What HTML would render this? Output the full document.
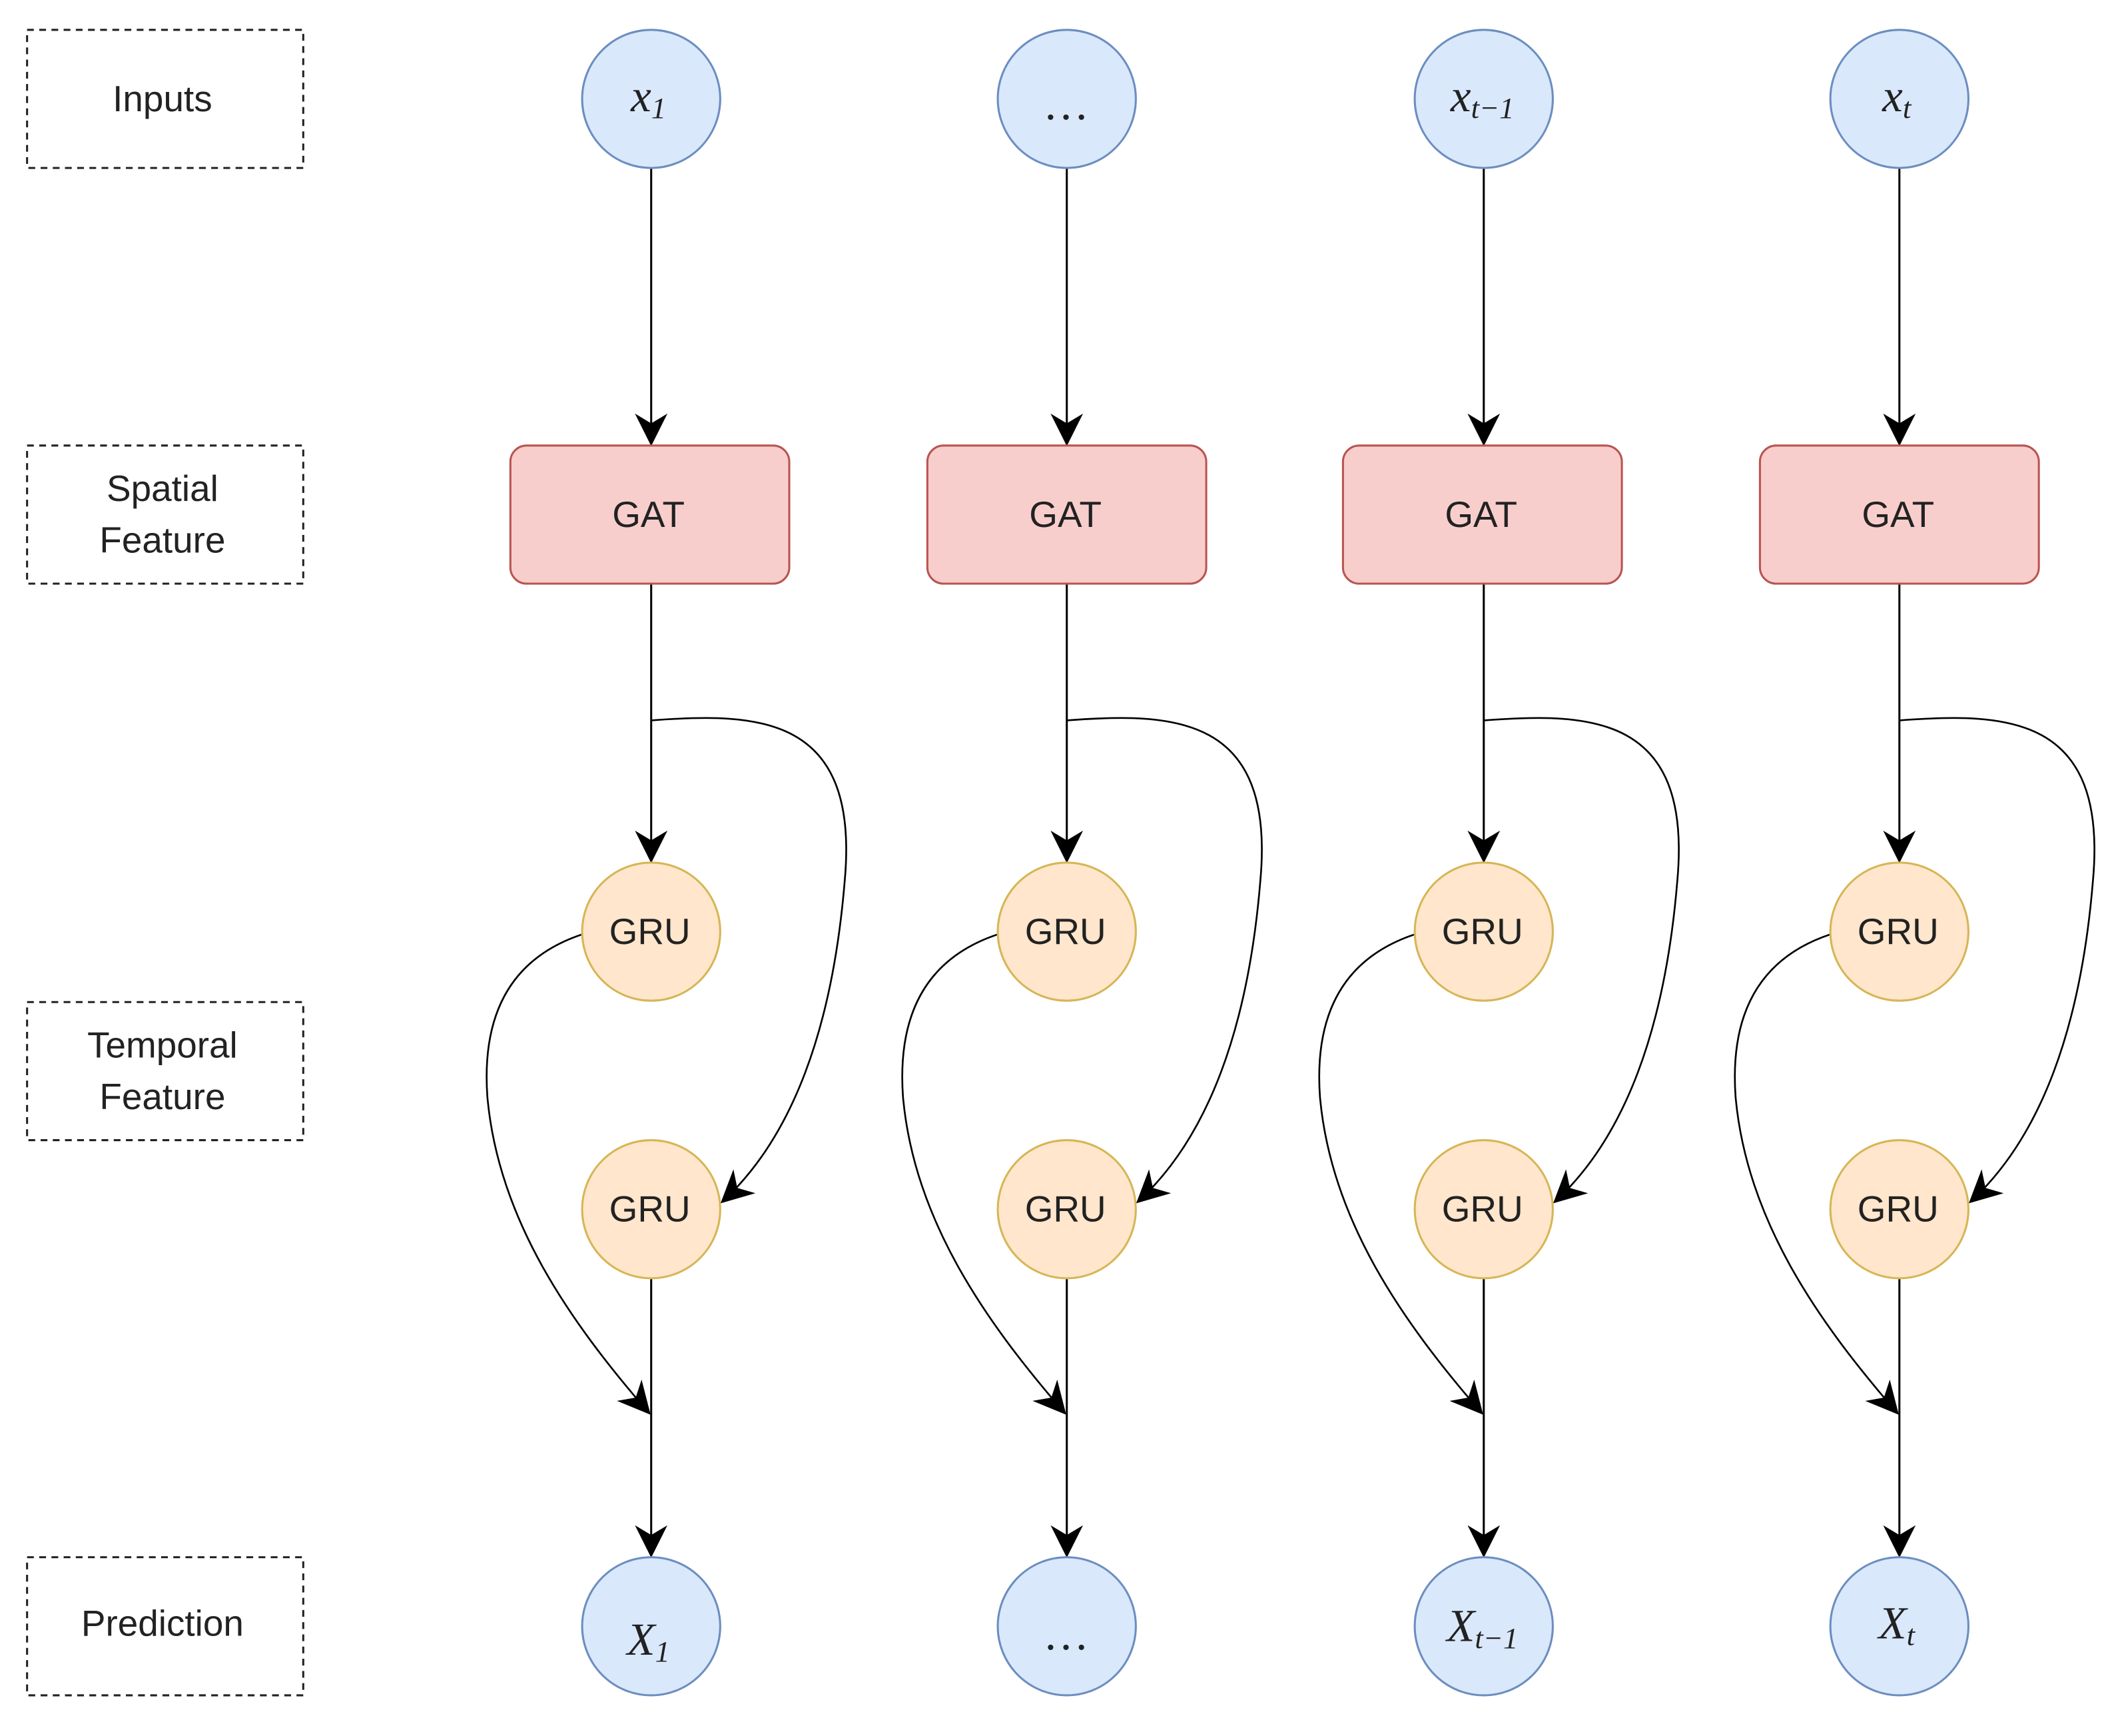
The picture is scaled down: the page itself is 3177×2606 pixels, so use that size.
<!DOCTYPE html>
<html><head><meta charset="utf-8"><style>
html,body{margin:0;padding:0;background:#fff;}
svg{display:block;}
.lbl{font-family:"Liberation Sans",sans-serif;font-size:27px;fill:#222;text-anchor:middle;}
.m{font-family:"Liberation Serif",serif;font-style:italic;font-size:34px;fill:#222;text-anchor:middle;}
.s{font-size:22px;font-style:italic;}
</style></head><body>
<svg width="3177" height="2606" viewBox="0 0 1563 1282" xmlns="http://www.w3.org/2000/svg">
<defs>
<marker id="b" viewBox="0 0 10 10" refX="9" refY="5" markerWidth="24" markerHeight="24" markerUnits="userSpaceOnUse" orient="auto">
<path d="M0,0 L10,5 L0,10 L3,5 z" fill="#000"/>
</marker>
</defs>
<g fill="none" stroke="#222" stroke-width="1.5" stroke-dasharray="5,4">
<rect x="20" y="22" width="204" height="102"/>
<rect x="20" y="329" width="204" height="102"/>
<rect x="20" y="740" width="204" height="102"/>
<rect x="20" y="1150" width="204" height="102"/>
</g>
<text class="lbl" x="120" y="82">Inputs</text>
<text class="lbl" x="120" y="370">Spatial</text>
<text class="lbl" x="120" y="408">Feature</text>
<text class="lbl" x="120" y="781">Temporal</text>
<text class="lbl" x="120" y="819">Feature</text>
<text class="lbl" x="120" y="1208">Prediction</text>

<g stroke="#000" stroke-width="1.5" fill="none">
<path d="M481,124 V327" marker-end="url(#b)"/>
<path d="M788,124 V327" marker-end="url(#b)"/>
<path d="M1096,124 V327" marker-end="url(#b)"/>
<path d="M1403,124 V327" marker-end="url(#b)"/>
<path d="M481,431 V635" marker-end="url(#b)"/>
<path d="M788,431 V635" marker-end="url(#b)"/>
<path d="M1096,431 V635" marker-end="url(#b)"/>
<path d="M1403,431 V635" marker-end="url(#b)"/>
<path d="M481,944 V1148" marker-end="url(#b)"/>
<path d="M788,944 V1148" marker-end="url(#b)"/>
<path d="M1096,944 V1148" marker-end="url(#b)"/>
<path d="M1403,944 V1148" marker-end="url(#b)"/>
</g>
<g stroke="#000" stroke-width="1.3" fill="none">
<path d="M481,532 C560,526 635,528 624,650 C615,760 585,840 534,887" marker-end="url(#b)"/>
<path d="M788,532 C867,526 942,528 931,650 C922,760 892,840 841,887" marker-end="url(#b)"/>
<path d="M1096,532 C1175,526 1250,528 1239,650 C1230,760 1200,840 1149,887" marker-end="url(#b)"/>
<path d="M1403,532 C1482,526 1557,528 1546,650 C1537,760 1507,840 1456,887" marker-end="url(#b)"/>
<path d="M430,690 C385,705 355,740 360,810 C368,900 420,975 479,1043" marker-end="url(#b)"/>
<path d="M737,690 C692,705 662,740 667,810 C675,900 727,975 786,1043" marker-end="url(#b)"/>
<path d="M1045,690 C1000,705 970,740 975,810 C983,900 1035,975 1094,1043" marker-end="url(#b)"/>
<path d="M1352,690 C1307,705 1277,740 1282,810 C1290,900 1342,975 1401,1043" marker-end="url(#b)"/>
</g>
<g fill="#f8cecc" stroke="#b85450" stroke-width="1.5">
<rect x="377" y="329" width="206" height="102" rx="12"/>
<rect x="685" y="329" width="206" height="102" rx="12"/>
<rect x="992" y="329" width="206" height="102" rx="12"/>
<rect x="1300" y="329" width="206" height="102" rx="12"/>
</g>
<text class="lbl" x="479" y="389">GAT</text><text class="lbl" x="787" y="389">GAT</text><text class="lbl" x="1094" y="389">GAT</text><text class="lbl" x="1402" y="389">GAT</text>
<g fill="#ffe6cc" stroke="#d6b656" stroke-width="1.5">
<circle cx="481" cy="688" r="51"/><circle cx="788" cy="688" r="51"/><circle cx="1096" cy="688" r="51"/><circle cx="1403" cy="688" r="51"/>
<circle cx="481" cy="893" r="51"/><circle cx="788" cy="893" r="51"/><circle cx="1096" cy="893" r="51"/><circle cx="1403" cy="893" r="51"/>
</g>
<text class="lbl" x="480" y="697">GRU</text><text class="lbl" x="787" y="697">GRU</text><text class="lbl" x="1095" y="697">GRU</text><text class="lbl" x="1402" y="697">GRU</text>
<text class="lbl" x="480" y="902">GRU</text><text class="lbl" x="787" y="902">GRU</text><text class="lbl" x="1095" y="902">GRU</text><text class="lbl" x="1402" y="902">GRU</text>
<g fill="#dae8fc" stroke="#6c8ebf" stroke-width="1.5">
<circle cx="481" cy="73" r="51"/><circle cx="788" cy="73" r="51"/><circle cx="1096" cy="73" r="51"/><circle cx="1403" cy="73" r="51"/>
<circle cx="481" cy="1201" r="51"/><circle cx="788" cy="1201" r="51"/><circle cx="1096" cy="1201" r="51"/><circle cx="1403" cy="1201" r="51"/>
</g>
<text class="m" x="479" y="82">x<tspan class="s" dy="5">1</tspan></text>
<text class="m" x="788" y="88">…</text>
<text class="m" x="1095" y="82">x<tspan class="s" dy="5">t−1</tspan></text>
<text class="m" x="1401" y="82">x<tspan class="s" dy="5">t</tspan></text>
<text class="m" x="479" y="1222">X<tspan class="s" dy="5">1</tspan></text>
<text class="m" x="788" y="1218">…</text>
<text class="m" x="1095" y="1212">X<tspan class="s" dy="5">t−1</tspan></text>
<text class="m" x="1401" y="1210">X<tspan class="s" dy="5">t</tspan></text>
</svg>
</body></html>
